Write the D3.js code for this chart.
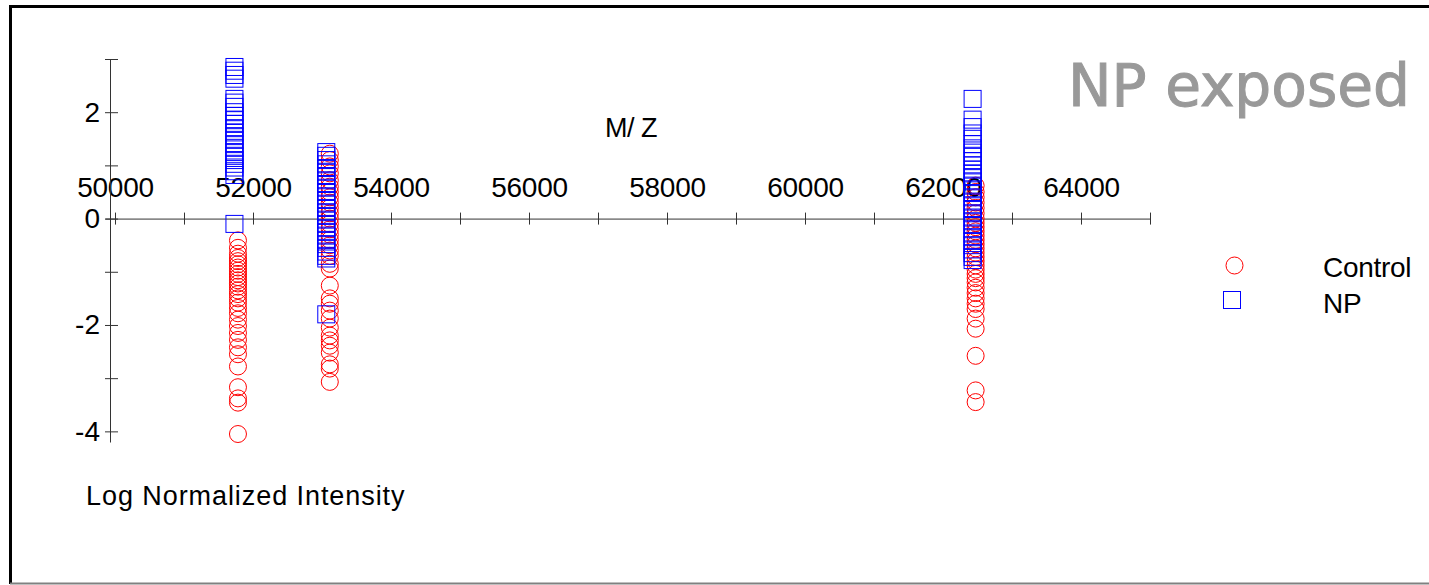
<!DOCTYPE html>
<html>
<head>
<meta charset="utf-8">
<script src="https://cdn.jsdelivr.net/npm/d3@7"></script>
<style>
  html, body { margin: 0; background: #fff; overflow: hidden; }
  svg { display: block; font-family: 'Liberation Sans', Arial, sans-serif; }
</style>
</head>
<body>
<svg></svg>
<script>
// m/z position of each peak column
const controlMz = [51782, 53113, 62473];
const npMz = [51731, 53062, 62429];

// log normalized intensity, per peak column
const controlPeak1 = [-0.41, -0.55, -0.66, -0.74, -0.8, -0.86, -0.92, -0.98, -1.04, -1.1, -1.16, -1.22, -1.28, -1.35, -1.42, -1.5, -1.58, -1.68, -1.78, -1.9, -2.02, -2.15, -2.28, -2.42, -2.55, -2.78, -3.17, -3.38, -3.46, -4.05];
const controlPeak2 = [1.22, 1.1, 0.98, 0.85, 0.72, 0.6, 0.5, 0.4, 0.3, 0.2, 0.1, 0.0, -0.1, -0.2, -0.3, -0.4, -0.5, -0.6, -0.7, -0.85, -0.94, -1.26, -1.5, -1.6, -1.73, -1.88, -2.05, -2.2, -2.29, -2.39, -2.52, -2.74, -2.82, -3.07];
const controlPeak3 = [0.62, 0.5, 0.4, 0.3, 0.2, 0.1, 0.0, -0.08, -0.16, -0.24, -0.32, -0.4, -0.48, -0.56, -0.64, -0.72, -0.8, -0.88, -0.96, -1.04, -1.12, -1.2, -1.3, -1.4, -1.5, -1.6, -1.7, -1.88, -2.07, -2.58, -3.23, -3.45];

const npPeak1 = [2.85, 2.78, 2.7, 2.63, 2.25, 2.18, 2.1, 2.0, 1.93, 1.85, 1.78, 1.7, 1.62, 1.55, 1.48, 1.4, 1.33, 1.25, 1.18, 1.1, 1.03, 0.96, 0.89, 0.82, -0.1];
const npPeak2 = [1.25, 1.18, 1.1, 1.02, 0.95, 0.88, 0.8, 0.72, 0.65, 0.58, 0.5, 0.42, 0.35, 0.28, 0.2, 0.12, 0.05, -0.02, -0.1, -0.18, -0.25, -0.32, -0.4, -0.48, -0.55, -0.62, -0.7, -0.75, -1.8];
const npPeak3 = [2.25, 1.86, 1.72, 1.6, 1.5, 1.4, 1.32, 1.24, 1.16, 1.08, 1.0, 0.92, 0.85, 0.78, 0.7, 0.62, 0.55, 0.48, 0.4, 0.32, 0.25, 0.18, 0.1, 0.02, -0.05, -0.12, -0.2, -0.28, -0.35, -0.42, -0.5, -0.58, -0.65, -0.72, -0.78];

const xTickLabels = [50000, 52000, 54000, 56000, 58000, 60000, 62000, 64000];
const yTickLabels = [-4, -2, 0, 2];

const width = 1429;
const height = 585;

const controlData = [controlPeak1, controlPeak2, controlPeak3]
  .flatMap((vals, i) => vals.map(v => ({mz: controlMz[i], value: v})));
const npData = [npPeak1, npPeak2, npPeak3]
  .flatMap((vals, i) => vals.map(v => ({mz: npMz[i], value: v})));

const svg = d3.select('svg').attr('width', width).attr('height', height);

// frame (cut off on the right)
svg.append('path')
    .attr('d', 'M1440,6.5H10.5V584')
    .attr('fill', 'none')
    .attr('stroke', '#000')
    .attr('stroke-width', 3);
svg.append('line')
    .attr('x1', 10).attr('x2', width)
    .attr('y1', 583.5).attr('y2', 583.5)
    .attr('stroke', '#808080')
    .attr('stroke-width', 2);

const xScale = d3.scaleLinear().domain([49855, 65000]).range([105, 1150]);
const yScale = d3.scaleLinear().domain([-4.2, 3]).range([442, 59]);

// x axis sits on y = 0, labels above
svg.append('g')
    .attr('transform', 'translate(0,' + yScale(0) + ')')
    .call(d3.axisTop(xScale)
      .tickValues(d3.range(50000, 65001, 1000))
      .tickSize(6).tickSizeOuter(0).tickPadding(16)
      .tickFormat(d => xTickLabels.includes(d) ? d : ''))
    .call(g => g.selectAll('.tick line').attr('y1', 6).attr('y2', -6))
    .call(g => g.selectAll('path, line').attr('stroke', '#333'))
    .call(g => g.selectAll('text')
      .attr('font-size', 28).attr('font-family', "'Liberation Sans', Arial, sans-serif")
      .attr('fill', '#000').attr('letter-spacing', -0.3));

// y axis
svg.append('g')
    .attr('transform', 'translate(110,0)')
    .call(d3.axisLeft(yScale)
      .tickValues(d3.range(-4, 4, 1))
      .tickSize(5).tickSizeOuter(0).tickPadding(5)
      .tickFormat(d => yTickLabels.includes(d) ? d : ''))
    .call(g => g.selectAll('.tick line').attr('x1', 8).attr('x2', -5))
    .call(g => g.selectAll('path, line').attr('stroke', '#333'))
    .call(g => g.selectAll('text')
      .attr('font-size', 28).attr('font-family', "'Liberation Sans', Arial, sans-serif")
      .attr('fill', '#000'));

// points
svg.append('g').selectAll('circle')
    .data(controlData)
    .join('circle')
      .attr('cx', d => xScale(d.mz))
      .attr('cy', d => yScale(d.value))
      .attr('r', 8.5)
      .attr('fill', 'none')
      .attr('stroke', '#ff0000')
      .attr('stroke-width', 1);

svg.append('g').selectAll('rect')
    .data(npData)
    .join('rect')
      .attr('x', d => xScale(d.mz) - 8.5)
      .attr('y', d => yScale(d.value) - 8.5)
      .attr('width', 17)
      .attr('height', 17)
      .attr('fill', 'none')
      .attr('stroke', '#0000ff')
      .attr('stroke-width', 1);

// axis titles
svg.append('text')
    .attr('x', 631).attr('y', 137)
    .attr('text-anchor', 'middle')
    .attr('font-size', 27)
    .attr('letter-spacing', -0.5)
    .text('M/ Z');

svg.append('text')
    .attr('x', 86).attr('y', 505)
    .attr('font-size', 27)
    .attr('letter-spacing', -0.5)
    .attr('textLength', 318)
    .text('Log Normalized Intensity');

// title
svg.append('text')
    .attr('x', 1068).attr('y', 106)
    .attr('font-size', 58)
    .attr('font-family', "'Comic Sans MS', 'DejaVu Sans', sans-serif")
    .attr('fill', '#999')
    .attr('stroke', '#999')
    .attr('stroke-width', 1)
    .attr('textLength', 342)
    .attr('lengthAdjust', 'spacingAndGlyphs')
    .text('NP exposed');

// legend
const legend = svg.append('g');
legend.append('circle')
    .attr('cx', 1234.5).attr('cy', 265.5).attr('r', 8.5)
    .attr('fill', 'none').attr('stroke', '#ff0000');
legend.append('rect')
    .attr('x', 1223.5).attr('y', 291.5).attr('width', 17).attr('height', 17)
    .attr('fill', 'none').attr('stroke', '#0000ff');
legend.append('text')
    .attr('x', 1323).attr('y', 277)
    .attr('font-size', 28).attr('letter-spacing', -0.3)
    .text('Control');
legend.append('text')
    .attr('x', 1323).attr('y', 313)
    .attr('font-size', 28).attr('letter-spacing', -0.3)
    .text('NP');
</script>
</body>
</html>
